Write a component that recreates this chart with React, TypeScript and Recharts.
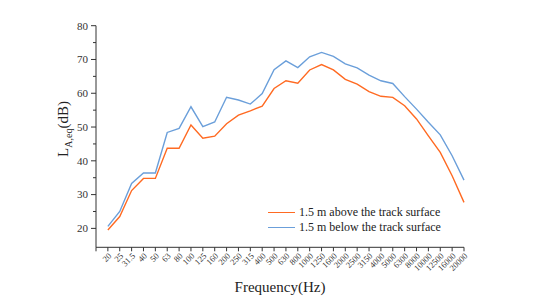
import React from 'react';
import { LineChart, Line, XAxis, YAxis } from 'recharts';

const freqLabels = [
  '20', '25', '31.5', '40', '50', '63', '80', '100', '125', '160', '200', '250', '315', '400', '500',
  '630', '800', '1000', '1250', '1600', '2000', '2500', '3150', '4000', '5000', '6300', '8000',
  '10000', '12500', '16000', '20000',
];

const aboveTrack = [
  19.5, 23.5, 31.2, 34.8, 34.8, 43.7, 43.7, 50.6, 46.7, 47.3, 51.0, 53.5, 54.8, 56.2, 61.4,
  63.7, 63.0, 66.9, 68.5, 66.9, 64.1, 62.7, 60.5, 59.1, 58.8, 56.3, 52.4, 47.4, 42.5, 35.6, 27.7,
];

const belowTrack = [
  20.6, 25.0, 33.3, 36.4, 36.4, 48.4, 49.6, 56.0, 50.1, 51.5, 58.8, 58.0, 56.8, 59.9, 67.0,
  69.6, 67.6, 70.8, 72.1, 70.9, 68.7, 67.5, 65.4, 63.7, 62.9, 59.0, 55.3, 51.4, 47.7, 41.5, 34.3,
];

const yTicks = [20, 25, 30, 35, 40, 45, 50, 55, 60, 65, 70, 75, 80];

const SERIES = [
  { key: 'above', name: '1.5 m above the track surface', color: '#FF6A22' },
  { key: 'below', name: '1.5 m below the track surface', color: '#6B9FDA' },
];

const FONT = '"Liberation Serif", "Times New Roman", serif';
const AXIS = '#333';

// x runs 0..31, categories sit at 1..31 (Origin style, no pad on the right)
const data = freqLabels.map((f, i) => ({
  idx: i + 1,
  freq: f,
  above: aboveTrack[i],
  below: belowTrack[i],
}));

const xTicks = [0, ...data.map(d => d.idx)];

const XTick = (props: any) => {
  const { x, y, payload } = props;
  const label = payload.value > 0 ? freqLabels[payload.value - 1] : '';
  return (
    <text
      x={x + 2}
      y={y + 1}
      transform={`rotate(-45 ${x + 2} ${y + 1})`}
      textAnchor="end"
      fontSize={8.5}
      fontFamily={FONT}
      fill={AXIS}
      dy="0.35em"
    >
      {label}
    </text>
  );
};

// tickSize 5 + tickMargin 3 -> the axis line sits 8px right of x
const YTick = (props: any) => {
  const { x, y, payload } = props;
  const major = payload.value % 10 === 0;
  const ax = x + 8;
  return (
    <g>
      <line x1={ax} x2={ax - (major ? 5 : 3)} y1={y} y2={y} stroke={AXIS} strokeWidth={1} />
      {major && (
        <text x={x} y={y} dy="0.35em" textAnchor="end" fontSize={11} fontFamily={FONT} fill={AXIS}>
          {payload.value}
        </text>
      )}
    </g>
  );
};

const LegendBox = () => (
  <div style={{ position: 'absolute', left: 268, top: 205, fontFamily: FONT, fontSize: 12, color: '#222', lineHeight: '15px' }}>
    {SERIES.map(s => (
      <div key={s.key} style={{ display: 'flex', alignItems: 'center', whiteSpace: 'nowrap' }}>
        <span style={{ display: 'inline-block', width: 27, height: 0, borderTop: `1.5px solid ${s.color}`, marginRight: 4 }} />
        <span>{s.name}</span>
      </div>
    ))}
  </div>
);

export default function App() {
  return (
    <div style={{ position: 'absolute', left: 0, top: 0, width: 546, height: 308, background: '#fff' }}>
      <LineChart width={546} height={308} data={data} margin={{ top: 25.7, right: 82, left: 56, bottom: 20.7 }}>
        <XAxis
          dataKey="idx"
          type="number"
          domain={[0, 31]}
          ticks={xTicks}
          interval={0}
          height={40}
          tick={<XTick />}
          tickSize={4}
          tickMargin={2}
          stroke={AXIS}
          label={{
            value: 'Frequency(Hz)',
            position: 'insideBottom',
            offset: -5,
            fontSize: 15,
            fontFamily: FONT,
            fill: '#222',
          }}
        />
        <YAxis
          type="number"
          domain={[14.4, 80]}
          allowDataOverflow
          ticks={yTicks}
          interval={0}
          width={40}
          tick={<YTick />}
          tickLine={false}
          tickSize={5}
          tickMargin={3}
          stroke={AXIS}
          label={{
            content: () => (
              <text
                x={68}
                y={129}
                transform="rotate(-90 68 129)"
                textAnchor="middle"
                fontFamily={FONT}
                fontSize={15}
                fill="#222"
              >
                L<tspan fontSize={10} dy={4}>A,eq</tspan>
                <tspan dy={-4}>(dB)</tspan>
              </text>
            ),
          }}
        />
        {SERIES.map(s => (
          <Line
            key={s.key}
            type="linear"
            dataKey={s.key}
            name={s.name}
            stroke={s.color}
            strokeWidth={1.4}
            dot={false}
            isAnimationActive={false}
          />
        ))}
      </LineChart>
      <LegendBox />
    </div>
  );
}
